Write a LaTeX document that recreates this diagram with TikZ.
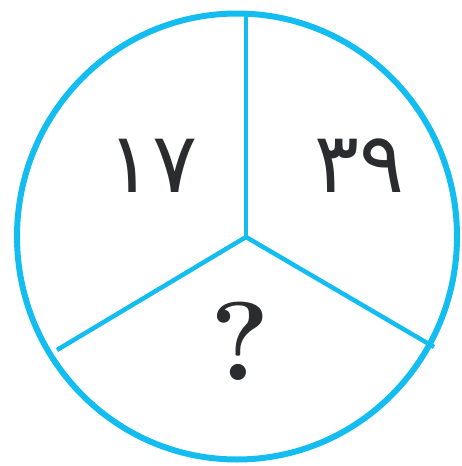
\documentclass[tikz,border=0pt]{standalone}
\usepackage{fontspec}
\newfontfamily\arabicfont[Script=Arabic]{DejaVu Sans}
\definecolor{ring}{HTML}{14BDF0}
\definecolor{ink}{HTML}{2A2C30}
\tikzset{
  rim/.style={draw=ring, line width=6pt},
  divider/.style={draw=ring, line width=4.5pt},
  num/.style={text=ink, inner sep=0pt, font=\arabicfont\fontsize{84}{86}\selectfont},
  qmark/.style={text=ink, inner sep=0pt, font=\bfseries\fontsize{112}{114}\selectfont}
}
\begin{document}
\begin{tikzpicture}[x=1pt,y=-1pt]
\useasboundingbox (0,0) rectangle (462,466);
\coordinate (o) at (237,236.5);
\draw[rim] (o) ellipse [x radius=220, y radius=223];
\coordinate (c) at (246,237);
\coordinate (top) at (246,13);
\coordinate (l) at (57,350);
\coordinate (r) at (434,347);
\draw[divider] (top) -- (c);
\draw[divider] (c) -- (l);
\draw[divider] (c) -- (r);
\node[num] (a) at (153,166) {۱۷};
\node[num] (b) at (360,166) {۳۹};
\node[qmark] (q) at (240,341) {?};
\end{tikzpicture}
\end{document}
